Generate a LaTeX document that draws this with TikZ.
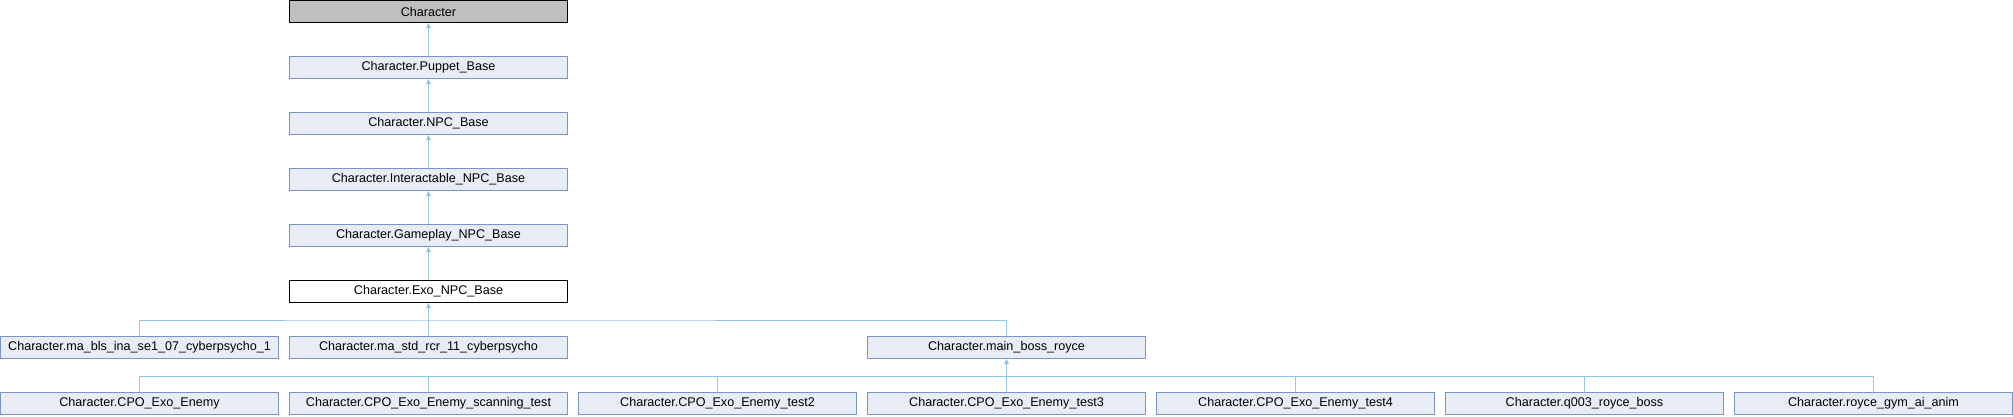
\documentclass[tikz,border=0pt]{standalone}
\usepackage{fontspec}
\setmainfont{Liberation Sans}
\usetikzlibrary{arrows.meta, positioning}
\definecolor{boxfill}{HTML}{E8ECF5}
\definecolor{boxline}{HTML}{7C93C8}
\definecolor{linkline}{HTML}{93C6E8}
\definecolor{rootfill}{HTML}{BFBFBF}
\tikzset{
  cls/.style={draw=boxline, fill=boxfill, line width=1pt, minimum width=278pt,
    minimum height=22pt, inner sep=0pt, font=\fontsize{12.6}{14}\selectfont},
  rootcls/.style={cls, draw=black, fill=rootfill},
  curcls/.style={cls, draw=black, fill=white},
  link/.style={draw=linkline, line width=1pt},
  inh/.style={link, -{Triangle[width=5pt,length=5pt]}},
}

\begin{document}
\begin{tikzpicture}[x=1pt, y=1pt]
    \useasboundingbox (0,0) rectangle (2013,-416);

    % base chain
    \node[rootcls] (root) at (428.5,-11.5) {Character};
    \node[cls] (puppet) at (428.5,-67.5) {Character.Puppet\_Base};
    \node[cls] (npc) at (428.5,-123.5) {Character.NPC\_Base};
    \node[cls] (inter) at (428.5,-179.5) {Character.Interactable\_NPC\_Base};
    \node[cls] (gameplay) at (428.5,-235.5) {Character.Gameplay\_NPC\_Base};
    \node[curcls] (exo) at (428.5,-291.5) {Character.Exo\_NPC\_Base};

    \draw[inh] (puppet) -- (root);
    \draw[inh] (npc) -- (puppet);
    \draw[inh] (inter) -- (npc);
    \draw[inh] (gameplay) -- (inter);
    \draw[inh] (exo) -- (gameplay);

    % derived from exo
    \node[cls] (mabls) at (139.5,-347.5) {Character.ma\_bls\_ina\_se1\_07\_cyberpsycho\_1};
    \node[cls] (mastd) at (428.5,-347.5) {Character.ma\_std\_rcr\_11\_cyberpsycho};
    \node[cls] (boss) at (1006.5,-347.5) {Character.main\_boss\_royce};

    \coordinate[below=17pt of exo.south] (exojoin);
    \draw[link] (mabls.north) |- (exojoin) -| (boss.north);
    \draw[link] (mastd.north) -- (exojoin);
    \draw[inh] (exojoin) -- (exo.south);

    % derived from main boss
    \foreach \name [count=\i from 0] in {CPO\_Exo\_Enemy, CPO\_Exo\_Enemy\_scanning\_test,
        CPO\_Exo\_Enemy\_test2, CPO\_Exo\_Enemy\_test3, CPO\_Exo\_Enemy\_test4,
        q003\_royce\_boss, royce\_gym\_ai\_anim} {
      \node[cls] (cpo\i) at (139.5+289*\i,-403.5) {Character.\name};
    }

    \coordinate[below=17pt of boss.south] (bossjoin);
    \draw[link] (cpo0.north) |- (bossjoin) -| (cpo6.north);
    \foreach \i in {1,...,5} {
      \draw[link] (cpo\i.north) |- (bossjoin);
    }
    \draw[inh] (bossjoin) -- (boss.south);
  \end{tikzpicture}
\end{document}
